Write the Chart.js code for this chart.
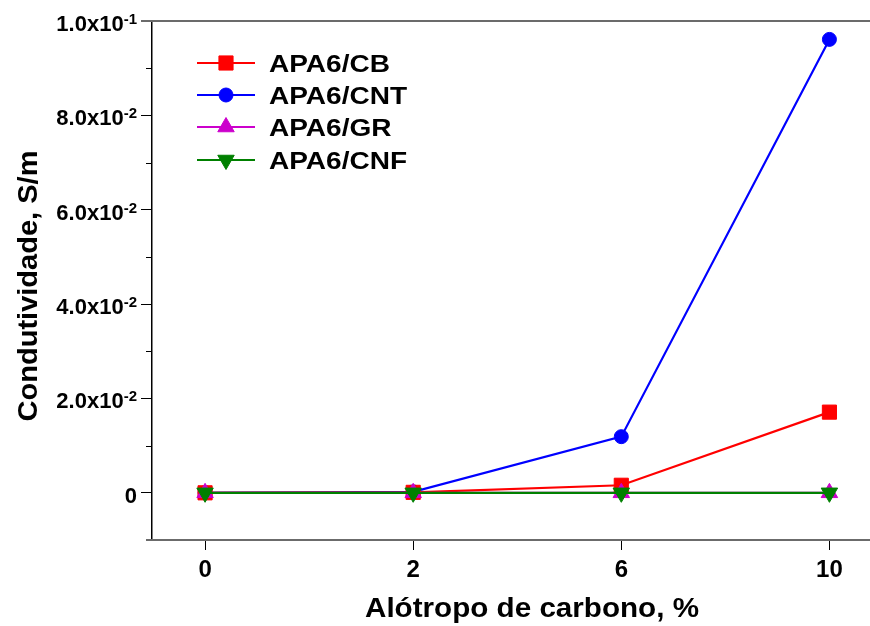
<!DOCTYPE html>
<html>
<head>
<meta charset="utf-8">
<title>Condutividade</title>
<script src="https://cdn.jsdelivr.net/npm/chart.js@4.4.1/dist/chart.umd.min.js"></script>
<style>
  html, body { margin: 0; padding: 0; background: #fff; overflow: hidden; }
  canvas { display: block; }
</style>
</head>
<body>
<canvas id="chart" width="870" height="626"></canvas>
<script>
  var xLabels = ['0', '2', '6', '10'];
  var cbValues = [0, 0.0001, 0.0016, 0.0171];
  var cntValues = [0, 0.0002, 0.0119, 0.0961];
  var grValues = [0, 0, 0, 0];
  var cnfValues = [0, 0, 0, 0];
  var yMajorTicks = [0, 0.02, 0.04, 0.06, 0.08, 0.1];
  var yMinorTicks = [0.01, 0.03, 0.05, 0.07, 0.09];
  var yTickLabels = ['0', '2.0x10^-2', '4.0x10^-2', '6.0x10^-2', '8.0x10^-2', '1.0x10^-1'];
  var seriesNames = ['APA6/CB', 'APA6/CNT', 'APA6/GR', 'APA6/CNF'];
  var xTitle = 'Alótropo de carbono, %';
  var yTitle = 'Condutividade, S/m';

  var FONT = '"Liberation Sans", Arial, sans-serif';

  function toPoints(values) {
    return values.map(function (v, i) { return { x: i, y: v }; });
  }

  // draws text squeezed/stretched to a given width
  function drawWide(ctx, text, x, y, width, align) {
    var w = ctx.measureText(text).width;
    var sx = width / w;
    ctx.save();
    ctx.translate(x, y);
    ctx.scale(sx, 1);
    ctx.textAlign = align;
    ctx.fillText(text, 0, 0);
    ctx.restore();
  }

  var decor = {
    id: 'decor',
    beforeDatasetsDraw: function (chart) {
      var ctx = chart.ctx;
      var area = chart.chartArea;
      var ys = chart.scales.y;
      ctx.save();
      // frame line on top and the bottom axis
      ctx.strokeStyle = '#6b6b6b';
      ctx.lineWidth = 2;
      ctx.beginPath();
      ctx.moveTo(area.left - 11, area.top);
      ctx.lineTo(area.right, area.top);
      ctx.moveTo(area.left - 6, area.bottom);
      ctx.lineTo(area.right, area.bottom);
      ctx.stroke();
      // minor ticks on the y axis
      ctx.strokeStyle = '#000';
      ctx.lineWidth = 1;
      ctx.beginPath();
      yMinorTicks.forEach(function (v) {
        var py = Math.round(ys.getPixelForValue(v)) + 0.5;
        ctx.moveTo(area.left - 6, py);
        ctx.lineTo(area.left, py);
      });
      ctx.stroke();
      ctx.restore();
    },
    afterDraw: function (chart) {
      var ctx = chart.ctx;
      var ys = chart.scales.y;
      ctx.save();
      ctx.fillStyle = '#000';

      // y tick labels with superscript exponents
      yMajorTicks.forEach(function (v, i) {
        var py = ys.getPixelForValue(v);
        var parts = yTickLabels[i].split('^');
        var right = 137;
        ctx.textAlign = 'right';
        ctx.textBaseline = 'alphabetic';
        if (parts.length > 1) {
          ctx.font = 'bold 15px ' + FONT;
          ctx.fillText(parts[1], right, py + 3);
          right -= ctx.measureText(parts[1]).width;
        }
        ctx.font = 'bold 22px ' + FONT;
        ctx.fillText(parts[0], right, py + 10);
      });

      // axis titles
      ctx.textBaseline = 'alphabetic';
      ctx.font = 'bold 28px ' + FONT;
      drawWide(ctx, xTitle, 532, 617, 334, 'center');
      ctx.save();
      ctx.translate(37, 286);
      ctx.rotate(-Math.PI / 2);
      drawWide(ctx, yTitle, 0, 0, 271, 'center');
      ctx.restore();

      // legend
      var rowY = [63, 95, 127, 160];
      ctx.font = 'bold 24px ' + FONT;
      var stretch = 121 / ctx.measureText(seriesNames[0]).width;
      chart.data.datasets.forEach(function (ds, i) {
        var y = rowY[i];
        ctx.strokeStyle = ds.borderColor;
        ctx.lineWidth = 2;
        ctx.beginPath();
        ctx.moveTo(197, y);
        ctx.lineTo(255, y);
        ctx.stroke();
        ctx.fillStyle = ds.pointBackgroundColor;
        ctx.strokeStyle = ds.borderColor;
        ctx.lineWidth = 1;
        Chart.helpers.drawPoint(ctx, {
          pointStyle: ds.pointStyle,
          rotation: ds.pointRotation || 0,
          radius: ds.pointRadius,
          borderWidth: 1
        }, 226, y);
        ctx.fillStyle = '#000';
        var w = ctx.measureText(ds.label).width * stretch;
        drawWide(ctx, ds.label, 269, y + 9, w, 'left');
      });
      ctx.restore();
    }
  };

  var datasets = [
    { label: seriesNames[0], data: toPoints(cbValues), color: '#ff0000', style: 'rect', radius: 10, rot: 0, order: 2 },
    { label: seriesNames[1], data: toPoints(cntValues), color: '#0000ff', style: 'circle', radius: 7, rot: 0, order: 3 },
    { label: seriesNames[2], data: toPoints(grValues), color: '#cc00cc', style: 'triangle', radius: 9.5, rot: 0, order: 1 },
    { label: seriesNames[3], data: toPoints(cnfValues), color: '#008000', style: 'triangle', radius: 9.5, rot: 180, order: 0 }
  ].map(function (s) {
    return {
      label: s.label,
      data: s.data,
      order: s.order,
      borderColor: s.color,
      backgroundColor: s.color,
      pointBackgroundColor: s.color,
      pointBorderColor: s.color,
      borderWidth: 2.2,
      pointStyle: s.style,
      pointRadius: s.radius,
      pointHoverRadius: s.radius,
      pointRotation: s.rot,
      pointBorderWidth: 1,
      tension: 0
    };
  });

  var ctx = document.getElementById('chart').getContext('2d');
  var chart = new Chart(ctx, {
    type: 'line',
    data: { datasets: datasets },
    options: {
      responsive: false,
      animation: false,
      devicePixelRatio: 1,
      layout: { autoPadding: false, padding: { top: 21, right: 0, left: 0, bottom: 0 } },
      plugins: {
        legend: { display: false },
        tooltip: { enabled: false }
      },
      scales: {
        x: {
          type: 'linear',
          min: -0.255,
          max: 3.195,
          afterBuildTicks: function (scale) {
            scale.ticks = xLabels.map(function (_, i) { return { value: i }; });
          },
          afterFit: function (scale) {
            scale.height = 86;
            scale.paddingLeft = 0;
            scale.paddingRight = 0;
          },
          ticks: {
            callback: function (value) { return xLabels[value]; },
            font: { family: FONT, size: 24, weight: 'bold' },
            color: '#000',
            padding: 6,
            maxRotation: 0
          },
          grid: { drawOnChartArea: false, drawTicks: true, tickLength: 10, tickColor: '#000', tickWidth: 1 },
          border: { display: false }
        },
        y: {
          min: -0.01,
          max: 0.1,
          afterBuildTicks: function (scale) {
            scale.ticks = yMajorTicks.map(function (v) { return { value: v }; });
          },
          afterFit: function (scale) {
            scale.width = 152;
            scale.paddingTop = 0;
            scale.paddingBottom = 0;
          },
          ticks: { display: false },
          grid: { drawOnChartArea: false, drawTicks: true, tickLength: 11, tickColor: '#000', tickWidth: 1 },
          border: { display: true, color: '#000', width: 1.5 }
        }
      }
    },
    plugins: [decor]
  });
</script>
</body>
</html>
